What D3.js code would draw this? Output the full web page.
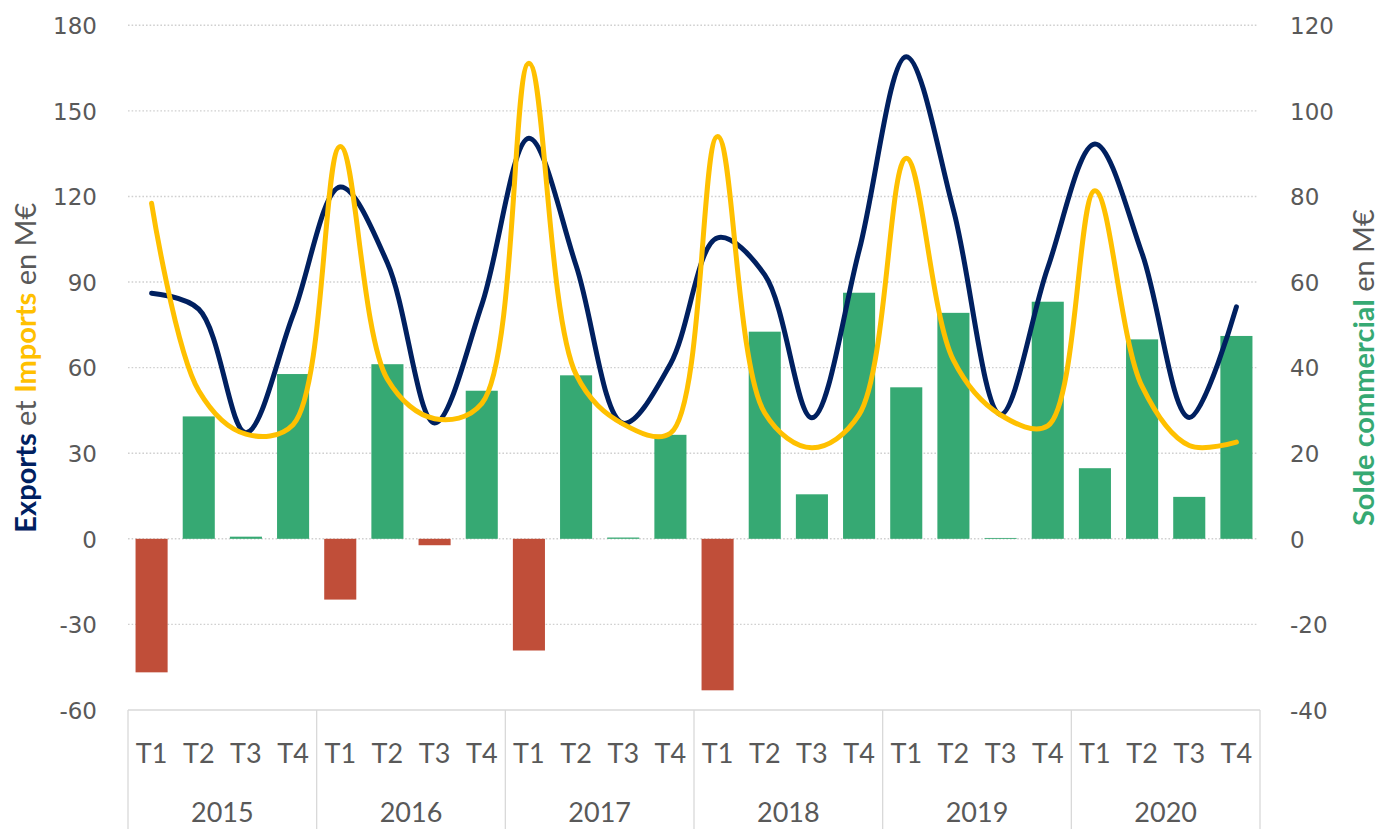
<!DOCTYPE html>
<html lang="fr">
<head>
<meta charset="utf-8">
<script src="https://cdn.jsdelivr.net/npm/d3@7"></script>
<style>
  html, body { margin: 0; padding: 0; background: #fff; }
  svg { display: block; }
</style>
</head>
<body>
<svg id="chart" width="1379" height="829"></svg>
<script>
// Quarterly trade: exports, imports (left axis) and trade balance (right axis), M€
const years = ["2015", "2016", "2017", "2018", "2019", "2020"];
const quarters = ["T1", "T2", "T3", "T4"];

const exportsValues = [86.1, 80.5, 37.2, 78.5, 123.3, 96.7, 40.6, 82.0, 140.4, 95.8, 40.5, 61.3,
                       105.5, 92.5, 42.4, 101.0, 169.0, 115.3, 43.6, 95.0, 138.4, 100.0, 42.5, 81.3];
const importsValues = [117.6, 51.9, 36.7, 40.0, 137.5, 55.9, 42.1, 47.4, 166.7, 57.6, 40.2, 37.0,
                       141.0, 44.1, 31.9, 43.5, 133.4, 62.6, 43.4, 39.6, 122.0, 53.4, 32.7, 33.9];
const soldeValues = [-31.2, 28.6, 0.5, 38.5, -14.2, 40.8, -1.5, 34.6, -26.1, 38.2, 0.3, 24.3,
                     -35.4, 48.4, 10.4, 57.5, 35.4, 52.8, 0.2, 55.4, 16.5, 46.6, 9.8, 47.4];

const leftTicks = [-60, -30, 0, 30, 60, 90, 120, 150, 180];
const rightTicks = [-40, -20, 0, 20, 40, 60, 80, 100, 120];

const periods = [];
years.forEach(y => quarters.forEach(q => periods.push({ year: y, quarter: q, key: y + "-" + q })));
const rows = periods.map((p, i) => ({
  ...p, exp: exportsValues[i], imp: importsValues[i], solde: soldeValues[i]
}));

const svg = d3.select("#chart");
const plotLeft = 128, plotRight = 1260, plotTop = 25.25, plotBottom = 710;

const x = d3.scaleBand().domain(periods.map(p => p.key)).range([plotLeft, plotRight])
  .paddingInner(0.32).paddingOuter(0.16);
const cx = k => x(k) + x.bandwidth() / 2;
const yL = d3.scaleLinear().domain([-60, 180]).range([plotBottom, plotTop]);
const yR = d3.scaleLinear().domain([-40, 120]).range([plotBottom, plotTop]);

const grey = "#595959";
const navy = "#002060";
const gold = "#FFC000";
const green = "#36A973";
const red = "#C04E39";

// Dotted horizontal gridlines
svg.append("g").selectAll("line").data(leftTicks.filter(t => t !== -60)).join("line")
  .attr("x1", plotLeft).attr("x2", plotRight - 2)
  .attr("y1", d => yL(d)).attr("y2", d => yL(d))
  .attr("stroke", "#d0d0d0").attr("stroke-width", 1.4)
  .attr("stroke-dasharray", "1.6 2");

// Bottom axis line and year separators
svg.append("line").attr("x1", plotLeft).attr("x2", plotRight)
  .attr("y1", plotBottom).attr("y2", plotBottom)
  .attr("stroke", "#d9d9d9").attr("stroke-width", 1.3);
const sepX = years.map(y => x(y + "-T1") - x.step() * x.paddingInner() / 2)
  .concat([plotRight]);
sepX[0] = plotLeft;
svg.append("g").selectAll("line").data(sepX).join("line")
  .attr("x1", d => d).attr("x2", d => d)
  .attr("y1", plotBottom).attr("y2", 829)
  .attr("stroke", "#d9d9d9").attr("stroke-width", 1.3);

// Trade balance bars
svg.append("g").selectAll("rect").data(rows).join("rect")
  .attr("x", d => x(d.key))
  .attr("width", x.bandwidth())
  .attr("y", d => Math.min(yR(d.solde), yR(0)))
  .attr("height", d => Math.abs(yR(d.solde) - yR(0)))
  .attr("fill", d => d.solde >= 0 ? green : red);

// Smoothed lines
const lineGen = acc => d3.line()
  .x(d => cx(d.key)).y(d => yL(acc(d)))
  .curve(d3.curveCatmullRom.alpha(0.5));
svg.append("path").datum(rows).attr("d", lineGen(d => d.exp))
  .attr("fill", "none").attr("stroke", navy).attr("stroke-width", 5)
  .attr("stroke-linecap", "round").attr("stroke-linejoin", "round");
svg.append("path").datum(rows).attr("d", lineGen(d => d.imp))
  .attr("fill", "none").attr("stroke", gold).attr("stroke-width", 5)
  .attr("stroke-linecap", "round").attr("stroke-linejoin", "round");

// Value axes
const axisFont = "'DejaVu Sans', Verdana, sans-serif";
const axL = d3.axisLeft(yL).tickValues(leftTicks).tickFormat(d => String(d))
  .tickSize(0).tickPadding(0);
const gL = svg.append("g").attr("transform", "translate(97,0)").call(axL);
gL.select(".domain").remove();
gL.selectAll("text").attr("font-family", axisFont).attr("font-size", 23)
  .attr("fill", grey).attr("dy", "0.36em");

const axR = d3.axisRight(yR).tickValues(rightTicks).tickFormat(d => String(d))
  .tickSize(0).tickPadding(0);
const gR = svg.append("g").attr("transform", "translate(1290,0)").call(axR);
gR.select(".domain").remove();
gR.selectAll("text").attr("font-family", axisFont).attr("font-size", 23)
  .attr("fill", grey).attr("dy", "0.36em");

// Category labels
const catFont = "Lato, 'Open Sans', sans-serif";
svg.append("g").selectAll("text").data(periods).join("text")
  .attr("x", d => cx(d.key)).attr("y", 763)
  .attr("text-anchor", "middle")
  .attr("font-family", catFont).attr("font-size", 27).attr("fill", grey)
  .text(d => d.quarter);
svg.append("g").selectAll("text").data(years).join("text")
  .attr("x", (d, i) => (sepX[i] + sepX[i + 1]) / 2).attr("y", 822)
  .attr("text-anchor", "middle")
  .attr("font-family", catFont).attr("font-size", 27).attr("fill", grey)
  .text(d => d);

// Axis titles
const midY = (plotTop + plotBottom) / 2;
const tL = svg.append("text")
  .attr("transform", `translate(36,${midY}) rotate(-90)`)
  .attr("text-anchor", "middle")
  .attr("font-family", catFont).attr("font-size", 29).attr("fill", grey);
tL.append("tspan").attr("font-weight", "bold").attr("fill", navy).text("Exports");
tL.append("tspan").text(" et ");
tL.append("tspan").attr("font-weight", "bold").attr("fill", gold).text("Imports");
tL.append("tspan").text(" en M€");

const tR = svg.append("text")
  .attr("transform", `translate(1374,${midY}) rotate(-90)`)
  .attr("text-anchor", "middle")
  .attr("font-family", catFont).attr("font-size", 29).attr("fill", grey);
tR.append("tspan").attr("font-weight", "bold").attr("fill", green).text("Solde commercial");
tR.append("tspan").text(" en M€");
</script>
</body>
</html>
